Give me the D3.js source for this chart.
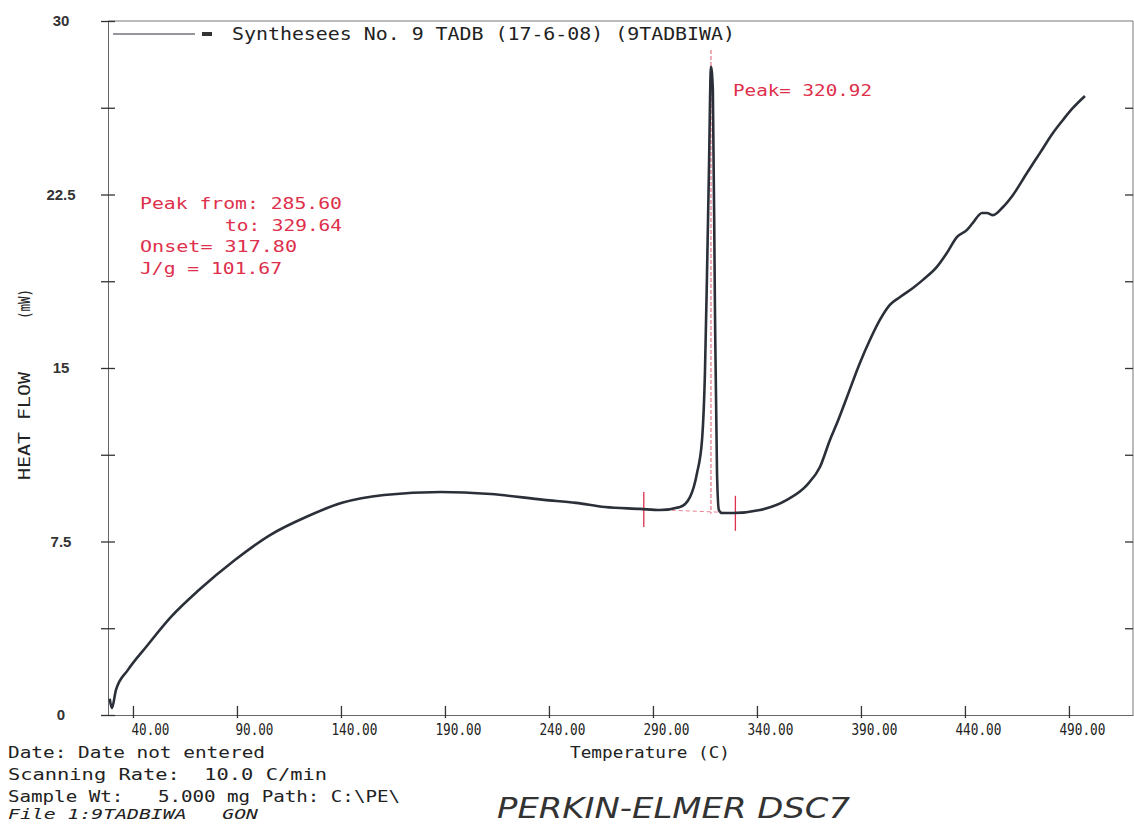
<!DOCTYPE html>
<html>
<head>
<meta charset="utf-8">
<script src="https://cdn.jsdelivr.net/npm/d3@7"></script>
<style>
  body { margin: 0; background: #fff; }
  text { font-family: "DejaVu Sans Mono", monospace; fill: #222; white-space: pre; }
</style>
</head>
<body>
<div id="dsc"></div>
<script>
// DSC trace: temperature (C) and heat flow (mW)
var temps = [28.8, 29.9, 31.8, 37.6, 46.3, 58.3, 71.7, 89.0, 105.9, 123.2, 140.5, 160.7, 188.1, 212.1,
  237.6, 253.0, 266.9, 283.8, 293.4, 303.0, 307.8, 311.2, 313.6, 315.0, 316.0, 316.9, 317.9, 318.8,
  319.8, 320.8, 321.7, 323.2, 328.5, 341.4, 354.4, 364.0, 370.3, 375.1, 378.5, 383.3, 389.5, 394.3,
  399.1, 403.9, 408.8, 415.0, 419.8, 426.5, 431.3, 436.2, 441.0, 443.8, 448.2, 450.6, 453.5, 458.3,
  463.1, 469.8, 476.1, 482.3, 487.1, 491.9, 497.7];
var heatFlow = [0.7, 0.3, 1.08, 1.95, 2.94, 4.24, 5.40, 6.70, 7.78, 8.56, 9.17, 9.51, 9.64, 9.55,
  9.30, 9.17, 8.99, 8.91, 8.86, 8.99, 9.42, 10.46, 11.89, 14.79, 19.11, 23.43, 28.02, 27.02,
  17.64, 10.46, 8.86, 8.73, 8.73, 8.86, 9.30, 9.94, 10.72, 11.89, 12.62, 13.75, 15.22, 16.21,
  17.08, 17.73, 18.07, 18.46, 18.81, 19.37, 19.97, 20.67, 20.97, 21.27, 21.70, 21.70, 21.61, 21.96,
  22.48, 23.43, 24.30, 25.16, 25.72, 26.24, 26.76];

var xTicks = [40, 90, 140, 190, 240, 290, 340, 390, 440, 490];
var yTicks = [0, 7.5, 15, 22.5, 30];
var yMinorTicks = [3.75, 11.25, 18.75, 26.25];

// peak integration limits (red markers)
var markerTemps = [285.6, 329.64];
var markerFlow = [8.9, 8.74];

var legendText = "Synthesees No. 9 TADB (17-6-08) (9TADBIWA)";
var peakLabel = "Peak= 320.92";
var resultLines = ["Peak from: 285.60", "to: 329.64", "Onset= 317.80", "J/g = 101.67"];
var infoLines = ["Date: Date not entered", "Scanning Rate:  10.0 C/min", "Sample Wt:   5.000 mg Path: C:\\PE\\"];
var fileLine = "File 1:9TADBIWA   GON";

var W = 1134, H = 825;
var red = "#de2f4c", ink = "#2b2f38";

var x = d3.scaleLinear().domain([28, 520.8]).range([108, 1133]);
var y = d3.scaleLinear().domain([0, 30]).range([715, 21]);

var svg = d3.select("#dsc").append("svg")
    .attr("width", W)
    .attr("height", H);

function label(txt, px, py, len, opts) {
  opts = opts || {};
  var t = svg.append("text")
      .attr("x", px)
      .attr("y", py)
      .attr("xml:space", "preserve")
      .style("font-size", (opts.size || 16) + "px")
      .text(txt);
  if (len) t.attr("textLength", len).attr("lengthAdjust", "spacingAndGlyphs");
  if (opts.fill) t.style("fill", opts.fill);
  if (opts.italic) t.style("font-style", "italic");
  if (opts.family) t.style("font-family", opts.family);
  if (opts.weight) t.style("font-weight", opts.weight);
  if (opts.anchor) t.attr("text-anchor", opts.anchor);
  return t;
}

// frame: top and right
svg.append("line").attr("x1", x.range()[0]).attr("x2", x.range()[1]).attr("y1", y(30)).attr("y2", y(30))
    .attr("stroke", "#777").attr("stroke-width", 1);
svg.append("line").attr("x1", x.range()[1]).attr("x2", x.range()[1]).attr("y1", y(30)).attr("y2", y(0))
    .attr("stroke", "#777").attr("stroke-width", 1);

// x axis
var gx = svg.append("g")
    .attr("transform", "translate(0," + y(0) + ")")
    .call(d3.axisBottom(x).tickValues(xTicks).tickSizeOuter(0)
      .tickFormat(function(d) { return d3.format(".2f")(d); }));
gx.select(".domain").attr("stroke", "#666");
gx.selectAll(".tick line").attr("y1", -9).attr("y2", 3).attr("stroke", "#333").attr("stroke-width", 1.3);
gx.selectAll(".tick text")
    .attr("text-anchor", "end")
    .attr("x", 36)
    .attr("y", 0)
    .attr("dy", 20)
    .attr("textLength", function(d) { return d >= 100 ? 46 : 38; })
    .attr("lengthAdjust", "spacingAndGlyphs")
    .style("font-family", "'DejaVu Sans Mono', monospace")
    .style("font-size", "16px")
    .style("fill", "#222");

// y axis
var gy = svg.append("g")
    .attr("transform", "translate(" + x.range()[0] + ",0)")
    .call(d3.axisLeft(y).tickValues(yTicks.concat(yMinorTicks)).tickSizeOuter(0)
      .tickFormat(function(d) { return yTicks.indexOf(d) >= 0 ? String(d) : ""; }));
gy.select(".domain").attr("stroke", "#666");
gy.selectAll(".tick line").attr("x1", -7).attr("x2", 7).attr("stroke", "#333").attr("stroke-width", 1.3);
gy.selectAll(".tick text")
    .attr("text-anchor", "middle")
    .attr("x", -47)
    .style("font-family", "'Liberation Sans', sans-serif")
    .style("font-weight", "bold")
    .style("font-size", "15px")
    .style("fill", "#333");

// right axis ticks (inward)
var gr = svg.append("g")
    .attr("transform", "translate(" + x.range()[1] + ",0)")
    .call(d3.axisLeft(y).tickValues(yMinorTicks.concat([7.5, 15, 22.5])).tickSize(8).tickFormat(""));
gr.select(".domain").remove();
gr.selectAll(".tick line").attr("stroke", "#333").attr("stroke-width", 1.3);

// axis titles
label("Temperature (C)", 570, 758, 160, {size: 16});
svg.append("text")
    .attr("transform", "translate(30," + 426 + ") rotate(-90)")
    .attr("text-anchor", "middle")
    .attr("textLength", 108).attr("lengthAdjust", "spacingAndGlyphs")
    .style("font-size", "16px")
    .text("HEAT FLOW");
svg.append("text")
    .attr("transform", "translate(30," + 304 + ") rotate(-90)")
    .attr("text-anchor", "middle")
    .attr("textLength", 30).attr("lengthAdjust", "spacingAndGlyphs")
    .style("font-size", "16px")
    .text("(mW)");

// legend
svg.append("line").attr("x1", 113).attr("x2", 195).attr("y1", 34).attr("y2", 34)
    .attr("stroke", ink).attr("stroke-width", 1);
svg.append("rect").attr("x", 202).attr("y", 32).attr("width", 10).attr("height", 4).style("fill", "#333");
label(legendText, 232, 40, 503, {size: 17});

// red annotations
var peakIdx = d3.maxIndex(heatFlow);
svg.append("line")
    .attr("x1", x(temps[peakIdx])).attr("x2", x(temps[peakIdx]))
    .attr("y1", 50).attr("y2", y(8.7))
    .attr("stroke", red).attr("stroke-width", 1).attr("stroke-dasharray", "4,2").attr("opacity", 0.8);
svg.append("line")
    .attr("x1", x(markerTemps[0])).attr("x2", x(markerTemps[1]))
    .attr("y1", y(markerFlow[0])).attr("y2", y(markerFlow[1]))
    .attr("stroke", red).attr("stroke-width", 1).attr("stroke-dasharray", "4,3").attr("opacity", 0.6);
svg.selectAll(".marker").data(markerTemps).enter().append("line")
    .attr("class", "marker")
    .attr("x1", function(d) { return x(d); })
    .attr("x2", function(d) { return x(d); })
    .attr("y1", function(d, i) { return y(markerFlow[i]) - 17; })
    .attr("y2", function(d, i) { return y(markerFlow[i]) + 18; })
    .attr("stroke", red).attr("stroke-width", 1.3);

label(peakLabel, 733, 96, 139, {size: 15, fill: red});
label(resultLines[0], 140, 209, 202, {size: 15, fill: red});
label(resultLines[1], 225, 231, 117, {size: 15, fill: red});
label(resultLines[2], 140, 252, 157, {size: 15, fill: red});
label(resultLines[3], 140, 274, 142, {size: 15, fill: red});

// the trace
var points = temps.map(function(t, i) { return [t, heatFlow[i]]; });
var trace = d3.line()
    .x(function(d) { return x(d[0]); })
    .y(function(d) { return y(d[1]); })
    .curve(d3.curveMonotoneX);
svg.append("path")
    .datum(points)
    .attr("d", trace)
    .attr("fill", "none")
    .attr("stroke", ink)
    .attr("stroke-width", 2.6)
    .attr("stroke-linejoin", "round");

// instrument info block
label(infoLines[0], 8, 758, 257, {size: 16});
label(infoLines[1], 8, 780, 319, {size: 16});
label(infoLines[2], 8, 802, 392, {size: 16});
label(fileLine, 8, 819, 250, {size: 14, italic: true});
label("PERKIN-ELMER DSC7", 497, 818, 353, {size: 28, italic: true, family: "'DejaVu Sans', sans-serif", weight: 200, fill: "#333"});
</script>
</body>
</html>
